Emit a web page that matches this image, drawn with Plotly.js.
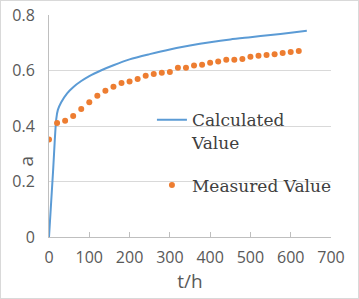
<!DOCTYPE html>
<html>
<head>
<meta charset="utf-8">
<script src="https://cdn.plot.ly/plotly-3.0.1.min.js"></script>
<style>
  html, body { margin: 0; padding: 0; background: #fff; }
  #chart { width: 359px; height: 299px; box-sizing: border-box; border: 1px solid #d9d9d9; }
</style>
</head>
<body>
<div id="chart"></div>
<script>
// Calculated curve (t in hours, a)
const calcT = [0, 10, 18, 22, 30, 45, 60, 80, 100, 130, 160, 200, 250, 300, 350, 400, 450, 500, 550, 600, 640];
const calcA = [0, 0.235, 0.425, 0.458, 0.485, 0.518, 0.540, 0.562, 0.580, 0.601, 0.619, 0.640, 0.659, 0.676, 0.690, 0.702, 0.712, 0.720, 0.728, 0.736, 0.743];

// Measured points
const measT = [0, 20, 40, 60, 80, 100, 120, 140, 160, 180, 200, 220, 240, 260, 280, 300, 320, 340, 360, 380, 400, 420, 440, 460, 480, 500, 520, 540, 560, 580, 600, 620];
const measA = [0.351, 0.411, 0.419, 0.436, 0.461, 0.486, 0.509, 0.527, 0.541, 0.555, 0.560, 0.569, 0.581, 0.587, 0.592, 0.595, 0.610, 0.610, 0.618, 0.621, 0.628, 0.632, 0.639, 0.639, 0.641, 0.650, 0.653, 0.656, 0.659, 0.663, 0.667, 0.670];

const xTicks = [0, 100, 200, 300, 400, 500, 600, 700];
const yTicks = [0, 0.2, 0.4, 0.6, 0.8];
const yTickText = ['0', '0.2', '0.4', '0.6', '0.8'];

const SANS = 'Open Sans';
const SERIF = 'DejaVu Serif';

const traces = [
  {
    x: calcT, y: calcA, type: 'scatter', mode: 'lines',
    name: 'Calculated<br>Value', legendgroup: 'c',
    line: { color: '#5B9BD5', width: 2, shape: 'spline', smoothing: 0.8 }
  },
  {
    x: measT, y: measA, type: 'scatter', mode: 'markers',
    name: 'Measured Value', legendgroup: 'm',
    marker: { color: '#ED7D31', size: 6 }
  }
];

const layout = {
  width: 357, height: 297,
  margin: { l: 48, r: 27, t: 14, b: 61 },
  paper_bgcolor: '#ffffff', plot_bgcolor: '#ffffff',
  font: { family: SERIF, color: '#404040', size: 17 },
  showlegend: true,
  legend: {
    x: 0.365, y: 0.607, xanchor: 'left', yanchor: 'top',
    bgcolor: 'rgba(0,0,0,0)',
    font: { family: SERIF, size: 17, color: '#404040' },
    valign: 'top', traceorder: 'grouped', tracegroupgap: 18
  },
  xaxis: {
    range: [0, 700], tickvals: xTicks, ticktext: xTicks.map(String),
    showgrid: false, zeroline: false,
    showline: true, linecolor: '#bfbfbf', linewidth: 1,
    ticks: 'inside', ticklen: 5, tickcolor: '#bfbfbf', tickwidth: 1,
    tickfont: { family: SANS, size: 16, color: '#595959' },
    ticklabelstandoff: 6,
    title: { text: 't/h', font: { family: SANS, size: 19, color: '#595959' }, standoff: 4 },
    fixedrange: true
  },
  yaxis: {
    range: [0, 0.8], tickvals: yTicks, ticktext: yTickText,
    showgrid: true, gridcolor: '#d9d9d9', gridwidth: 1,
    zeroline: false,
    showline: true, linecolor: '#bfbfbf', linewidth: 1,
    ticks: '', tickfont: { family: SANS, size: 16, color: '#595959' },
    ticklabelstandoff: 10,
    fixedrange: true
  },
  annotations: [
    {
      text: 'a', xref: 'paper', yref: 'paper',
      x: -0.085, y: 0.34, xanchor: 'center', yanchor: 'middle',
      textangle: -90, showarrow: false,
      font: { family: SANS, size: 19, color: '#595959' }
    }
  ]
};

Plotly.newPlot('chart', traces, layout, { displayModeBar: false, staticPlot: true });
</script>
</body>
</html>
